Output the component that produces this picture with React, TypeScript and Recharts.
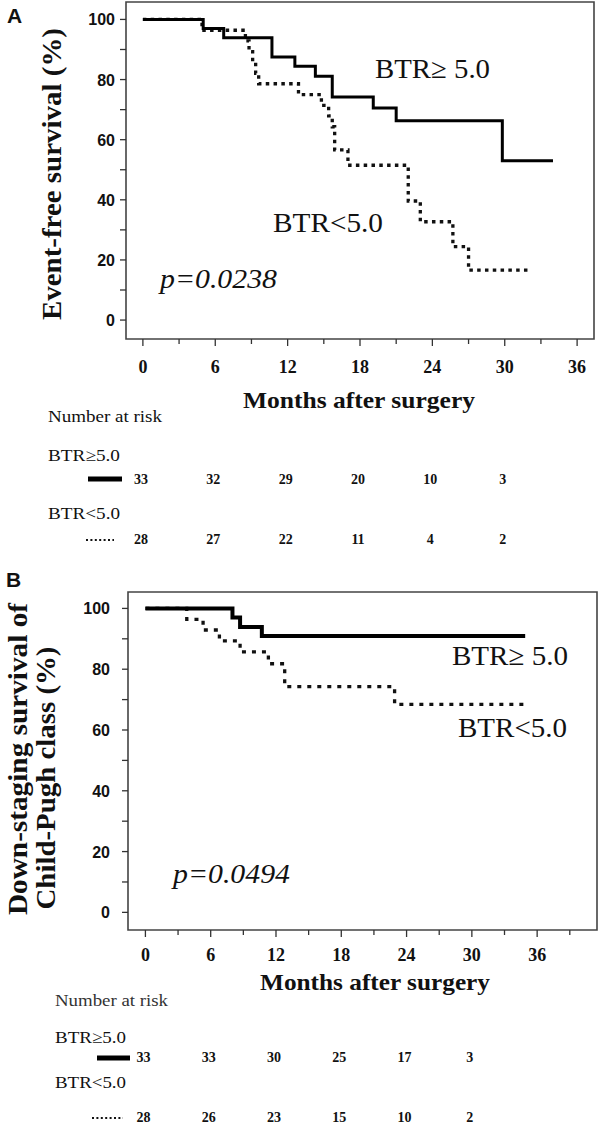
import { LineChart, Line, XAxis, YAxis, ReferenceArea } from "recharts"

// Panel A: event-free survival (Kaplan-Meier steps)
const monthsHighA = [0, 5.0, 6.7, 10.7, 12.6, 14.3, 15.7, 19.1, 21.0, 29.8, 34.0]
const survHighA = [100, 97.0, 93.9, 87.5, 84.4, 81.1, 74.2, 70.5, 66.3, 53.0, 53.0]
const monthsLowA = [0, 4.9, 8.5, 8.8, 9.1, 9.35, 9.6, 12.9, 14.8, 15.4, 15.7, 15.9, 17.0, 22.0, 23.0, 25.7, 27.0, 32.0]
const survLowA = [100, 96.4, 92.9, 89.3, 85.7, 82.1, 78.6, 75.0, 71.4, 67.9, 64.3, 56.6, 51.5, 39.6, 32.7, 24.4, 16.6, 16.6]
const riskHighA = [33, 32, 29, 20, 10, 3]
const riskLowA = [28, 27, 22, 11, 4, 2]

// Panel B: down-staging survival of Child-Pugh class
const monthsHighB = [0, 8.0, 8.7, 10.7, 34.9]
const survHighB = [100, 97.0, 93.9, 90.9, 90.9]
const monthsLowB = [0, 3.8, 5.3, 6.8, 8.7, 11.3, 12.8, 22.9, 35.0]
const survLowB = [100, 96.4, 92.9, 89.3, 85.7, 81.8, 74.3, 68.4, 68.4]
const riskHighB = [33, 33, 30, 25, 17, 3]
const riskLowB = [28, 26, 23, 15, 10, 2]

const monthTicksA = [0, 3, 6, 9, 12, 15, 18, 21, 24, 27, 30, 33, 36]
const monthTicksB = [0, 3, 6, 9, 12, 15, 18, 21, 24, 27, 30, 33, 36, 39]
const riskMonths = [0, 6, 12, 18, 24, 30]
const pctTicks = [0, 10, 20, 30, 40, 50, 60, 70, 80, 90, 100]

const toPoints = (months: number[], surv: number[]) =>
  months.map((m, i) => ({ month: m, surv: surv[i] }))

const SERIF = "'Liberation Serif', 'Times New Roman', serif"
const SANS = "'Liberation Sans', Arial, sans-serif"

// x tick: tick mark, month label, and the number-at-risk rows under it
function monthTick(labelDy: number, high: number[], low: number[], riskDy: [number, number]) {
  return (p: any) => {
    const { x, y, payload } = p
    const major = payload.value % 6 === 0
    const r = riskMonths.indexOf(payload.value)
    return (
      <g>
        <line x1={x} x2={x} y1={y} y2={y + (major ? 7 : 5)} stroke="#333" strokeWidth={1.3} />
        {major && (
          <text x={x} y={y + labelDy} textAnchor="middle" fontFamily={SERIF} fontWeight="bold" fontSize={18} fill="#111">
            {payload.value}
          </text>
        )}
        {r >= 0 && (
          <g fontFamily={SERIF} fontWeight="bold" fontSize={14} fill="#111">
            <text x={x - 2} y={y + riskDy[0]} textAnchor="middle">{high[r]}</text>
            <text x={x - 2} y={y + riskDy[1]} textAnchor="middle">{low[r]}</text>
          </g>
        )}
      </g>
    )
  }
}

function pctTick(gap: number) {
  return (p: any) => {
    const { x, y, payload } = p
    const major = payload.value % 20 === 0
    return (
      <g>
        <line x1={x - 6} x2={x} y1={y} y2={y} stroke="#333" strokeWidth={1.3} />
        {major && (
          <text x={x - gap} y={y + 6} textAnchor="end" fontFamily={SANS} fontWeight="bold" fontSize={16} fill="#111">
            {payload.value}
          </text>
        )}
      </g>
    )
  }
}

interface PanelProps {
  top: number
  height: number
  margin: { top: number; right: number; bottom: number; left: number }
  xDomain: [number, number]
  yDomain: [number, number]
  monthTicks: number[]
  high: { month: number; surv: number }[]
  low: { month: number; surv: number }[]
  riskHigh: number[]
  riskLow: number[]
  riskDy: [number, number]
  labelDy: number
  pctGap: number
  solidWidth: number
  dash: string
}

function KMPanel(props: PanelProps) {
  const { top, height, margin, xDomain, yDomain } = props
  return (
    <div style={{ position: "absolute", left: 0, top, width: 600, height }}>
      <LineChart width={600} height={height} margin={margin}>
        <XAxis
          dataKey="month"
          type="number"
          domain={xDomain}
          allowDataOverflow
          ticks={props.monthTicks}
          interval={0}
          axisLine={false}
          tickLine={false}
          tickSize={0}
          tickMargin={0}
          height={1}
          tick={monthTick(props.labelDy, props.riskHigh, props.riskLow, props.riskDy)}
        />
        <YAxis
          type="number"
          domain={yDomain}
          allowDataOverflow
          ticks={pctTicks}
          interval={0}
          axisLine={false}
          tickLine={false}
          tickSize={0}
          tickMargin={0}
          width={1}
          tick={pctTick(props.pctGap)}
        />
        <ReferenceArea
          x1={xDomain[0]}
          x2={xDomain[1]}
          y1={yDomain[0]}
          y2={yDomain[1]}
          fill="none"
          fillOpacity={0}
          stroke="#444"
          strokeWidth={1.6}
          ifOverflow="visible"
        />
        <Line
          data={props.low}
          dataKey="surv"
          type="stepAfter"
          stroke="#111"
          strokeWidth={3.3}
          strokeDasharray={props.dash}
          dot={false}
          activeDot={false}
          isAnimationActive={false}
        />
        <Line
          data={props.high}
          dataKey="surv"
          type="stepAfter"
          stroke="#000"
          strokeWidth={props.solidWidth}
          dot={false}
          activeDot={false}
          isAnimationActive={false}
        />
      </LineChart>
    </div>
  )
}

export default function App() {
  return (
    <div style={{ position: "absolute", left: 0, top: 0, width: 600, height: 1127, background: "#fff", overflow: "hidden" }}>
      <KMPanel
        top={0}
        height={570}
        margin={{ top: 2, right: 6, bottom: 230, left: 125 }}
        xDomain={[-1.4, 37.4]}
        yDomain={[-6.3, 105.8]}
        monthTicks={monthTicksA}
        high={toPoints(monthsHighA, survHighA)}
        low={toPoints(monthsLowA, survLowA)}
        riskHigh={riskHighA}
        riskLow={riskLowA}
        riskDy={[145, 205]}
        labelDy={34}
        pctGap={11}
        solidWidth={3}
        dash="3.5 4.3"
      />
      <KMPanel
        top={570}
        height={557}
        margin={{ top: 22, right: 3, bottom: 196, left: 127 }}
        xDomain={[-1.6, 41.5]}
        yDomain={[-5.8, 105.4]}
        monthTicks={monthTicksB}
        high={toPoints(monthsHighB, survHighB)}
        low={toPoints(monthsLowB, survLowB)}
        riskHigh={riskHighB}
        riskLow={riskLowB}
        riskDy={[132, 192]}
        labelDy={31}
        pctGap={18}
        solidWidth={4}
        dash="4 6"
      />
      <svg width={600} height={1127} style={{ position: "absolute", left: 0, top: 0, pointerEvents: "none" }}>
        <g fill="#111">
          {/* Panel A */}
          <text x={7} y={23} fontFamily={SANS} fontWeight="bold" fontSize={21}>A</text>
          <text transform="translate(61,174) rotate(-90)" textAnchor="middle" fontFamily={SERIF} fontWeight="bold" fontSize={27} textLength={292} lengthAdjust="spacingAndGlyphs">
            Event-free survival (%)
          </text>
          <text x={359} y={408} textAnchor="middle" fontFamily={SERIF} fontWeight="bold" fontSize={24} textLength={232} lengthAdjust="spacingAndGlyphs">
            Months after surgery
          </text>
          <text x={375} y={78} fontFamily={SERIF} fontSize={28} textLength={115} lengthAdjust="spacingAndGlyphs">BTR≥ 5.0</text>
          <text x={273} y={232} fontFamily={SERIF} fontSize={28} textLength={110} lengthAdjust="spacingAndGlyphs">BTR&lt;5.0</text>
          <text x={160} y={288} fontFamily={SERIF} fontStyle="italic" fontSize={28} textLength={117} lengthAdjust="spacingAndGlyphs">p=0.0238</text>
          <text x={48} y={422} fontFamily={SERIF} fontSize={17} textLength={114} lengthAdjust="spacingAndGlyphs">Number at risk</text>
          <text x={48} y={461} fontFamily={SERIF} fontSize={17} textLength={72} lengthAdjust="spacingAndGlyphs">BTR≥5.0</text>
          <text x={48} y={519} fontFamily={SERIF} fontSize={17} textLength={72} lengthAdjust="spacingAndGlyphs">BTR&lt;5.0</text>
          <line x1={88} x2={122} y1={479} y2={479} stroke="#000" strokeWidth={5} />
          <line x1={86} x2={114} y1={540} y2={540} stroke="#111" strokeWidth={2} strokeDasharray="2 2.4" />

          {/* Panel B */}
          <text x={6} y={587} fontFamily={SANS} fontWeight="bold" fontSize={21}>B</text>
          <text transform="translate(27,759) rotate(-90)" textAnchor="middle" fontFamily={SERIF} fontWeight="bold" fontSize={27} textLength={312} lengthAdjust="spacingAndGlyphs">
            Down-staging survival of
          </text>
          <text transform="translate(55,778) rotate(-90)" textAnchor="middle" fontFamily={SERIF} fontWeight="bold" fontSize={27} textLength={263} lengthAdjust="spacingAndGlyphs">
            Child-Pugh class (%)
          </text>
          <text x={375} y={990} textAnchor="middle" fontFamily={SERIF} fontWeight="bold" fontSize={24} textLength={230} lengthAdjust="spacingAndGlyphs">
            Months after surgery
          </text>
          <text x={452} y={665} fontFamily={SERIF} fontSize={28} textLength={116} lengthAdjust="spacingAndGlyphs">BTR≥ 5.0</text>
          <text x={458} y={737} fontFamily={SERIF} fontSize={28} textLength={109} lengthAdjust="spacingAndGlyphs">BTR&lt;5.0</text>
          <text x={173} y={883} fontFamily={SERIF} fontStyle="italic" fontSize={28} textLength={117} lengthAdjust="spacingAndGlyphs">p=0.0494</text>
          <text x={55} y={1006} fontFamily={SERIF} fontSize={17} fill="#333" textLength={113} lengthAdjust="spacingAndGlyphs">Number at risk</text>
          <text x={55} y={1043} fontFamily={SERIF} fontSize={17} textLength={71} lengthAdjust="spacingAndGlyphs">BTR≥5.0</text>
          <text x={55} y={1088} fontFamily={SERIF} fontSize={17} textLength={71} lengthAdjust="spacingAndGlyphs">BTR&lt;5.0</text>
          <line x1={97} x2={130} y1={1058} y2={1058} stroke="#000" strokeWidth={5} />
          <line x1={92} x2={123} y1={1118} y2={1118} stroke="#111" strokeWidth={2} strokeDasharray="2 2.4" />
        </g>
      </svg>
    </div>
  )
}
